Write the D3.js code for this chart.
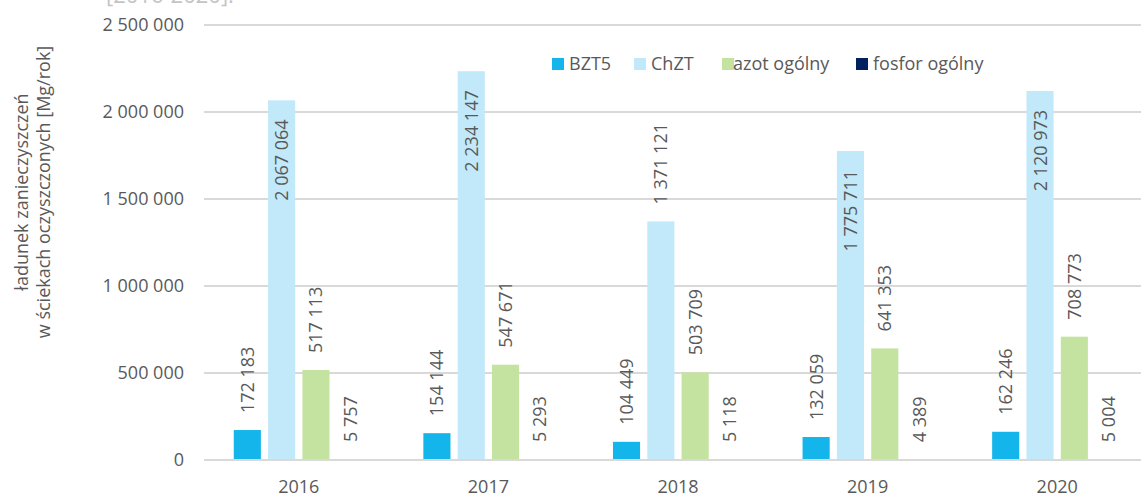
<!DOCTYPE html>
<html>
<head>
<meta charset="utf-8">
<script src="https://cdn.jsdelivr.net/npm/d3@7"></script>
<style>
  html, body { margin: 0; padding: 0; background: #fff; overflow: hidden; }
  svg { display: block; font-family: 'Open Sans', 'Noto Sans', sans-serif; }
</style>
</head>
<body>
<svg id="chart"></svg>
<script>
// data
const years = ['2016', '2017', '2018', '2019', '2020']
const seriesNames = ['BZT5', 'ChZT', 'azot ogólny', 'fosfor ogólny']
const bzt5 = [172183, 154144, 104449, 132059, 162246]
const chzt = [2067064, 2234147, 1371121, 1775711, 2120973]
const azot = [517113, 547671, 503709, 641353, 708773]
const fosfor = [5757, 5293, 5118, 4389, 5004]
const yTicks = [0, 500000, 1000000, 1500000, 2000000, 2500000]
const colors = ['#13b5ea', '#c1e9f9', '#c5e3a0', '#002060']

const width = 1141
const height = 495
const margin = { top: 25, right: -11, bottom: 35, left: 204 }
const innerWidth = width - margin.left - margin.right
const innerHeight = height - margin.top - margin.bottom

const textColor = '#595959'
const fmt = v => d3.format(',')(v).replace(/,/g, ' ')

const svg = d3.select('#chart')
  .attr('width', width)
  .attr('height', height)

const values = [bzt5, chzt, azot, fosfor]
const data = years.map((y, i) => ({
  year: y,
  items: seriesNames.map((s, j) => ({ key: s, idx: j, value: values[j][i] }))
}))

const x0 = d3.scaleBand()
  .domain(years)
  .range([0, innerWidth])
  .padding(0)

const x1 = d3.scaleBand()
  .domain(seriesNames)
  .range([0, x0.bandwidth()])
  .paddingInner(0.21)
  .paddingOuter(0.867)

const yScale = d3.scaleLinear()
  .domain([0, 2500000])
  .range([innerHeight, 0])

// caption remnant at top
svg.append('text')
  .attr('x', 106)
  .attr('y', 3)
  .attr('font-size', 22)
  .attr('fill', '#c4c4c4')
  .text('[2016-2020].')

const g = svg.append('g')
  .attr('transform', `translate(${margin.left},${margin.top})`)

// gridlines
g.append('g')
  .selectAll('line')
  .data(yTicks)
  .join('line')
  .attr('x1', 0)
  .attr('x2', innerWidth)
  .attr('y1', d => yScale(d))
  .attr('y2', d => yScale(d))
  .attr('stroke', '#d9d9d9')
  .attr('stroke-width', 2)

// y axis labels
const yAxis = g.append('g')
  .attr('transform', 'translate(-20,0)')
  .call(d3.axisLeft(yScale).tickValues(yTicks).tickFormat(fmt).tickSize(0).tickPadding(0))
yAxis.select('.domain').remove()
yAxis.selectAll('text')
  .attr('font-size', 18)
  .attr('font-family', "'Open Sans', 'Noto Sans', sans-serif")
  .attr('fill', textColor)

// x axis labels
const xAxis = g.append('g')
  .attr('transform', `translate(0,${innerHeight})`)
  .call(d3.axisBottom(x0).tickSize(0).tickPadding(0))
xAxis.select('.domain').remove()
xAxis.selectAll('text')
  .attr('dy', null)
  .attr('y', 33)
  .attr('font-size', 18)
  .attr('font-family', "'Open Sans', 'Noto Sans', sans-serif")
  .attr('fill', textColor)

// bars
const groups = g.selectAll('.year')
  .data(data)
  .join('g')
  .attr('class', 'year')
  .attr('transform', d => `translate(${x0(d.year)},0)`)

groups.selectAll('rect')
  .data(d => d.items)
  .join('rect')
  .attr('x', d => x1(d.key))
  .attr('y', d => yScale(d.value))
  .attr('width', x1.bandwidth())
  .attr('height', d => innerHeight - yScale(d.value))
  .attr('fill', d => colors[d.idx])

// data labels, rotated; inside end when they would reach the legend area
const labelSize = 18
groups.selectAll('text.lbl')
  .data(d => d.items)
  .join('text')
  .attr('class', 'lbl')
  .attr('font-size', labelSize)
  .attr('fill', textColor)
  .text(d => fmt(d.value))
  .each(function (d) {
    const t = d3.select(this)
    const len = this.getComputedTextLength()
    const cx = x1(d.key) + x1.bandwidth() / 2
    const top = yScale(d.value)
    const inside = top - 17 - len < 55
    const y = inside ? top + 19 + len : top - 17
    t.attr('transform', `translate(${cx + 6.5},${y}) rotate(-90)`)
      .attr('text-anchor', 'start')
  })

// baseline
g.append('line')
  .attr('x1', 0)
  .attr('x2', innerWidth)
  .attr('y1', innerHeight)
  .attr('y2', innerHeight)
  .attr('stroke', '#d9d9d9')
  .attr('stroke-width', 2)

// y axis title
const title = svg.append('text')
  .attr('transform', 'translate(0,192) rotate(-90)')
  .attr('text-anchor', 'middle')
  .attr('font-size', 18)
  .attr('fill', textColor)
title.append('tspan').attr('x', 0).attr('y', 28).text('ładunek zanieczyszczeń')
title.append('tspan').attr('x', 0).attr('y', 50).text('w ściekach oczyszczonych [Mg/rok]')

// legend
const legendX = [552, 634, 722, 856]
const legend = svg.append('g')
const items = legend.selectAll('g')
  .data(seriesNames)
  .join('g')
  .attr('transform', (d, i) => `translate(${legendX[i]},58)`)
items.append('rect')
  .attr('width', 12)
  .attr('height', 12)
  .attr('fill', (d, i) => colors[i])
items.append('text')
  .attr('x', (d, i) => i === 2 ? 11 : 17)
  .attr('y', 11.5)
  .attr('font-size', 18)
  .attr('fill', textColor)
  .text(d => d)
</script>
</body>
</html>
